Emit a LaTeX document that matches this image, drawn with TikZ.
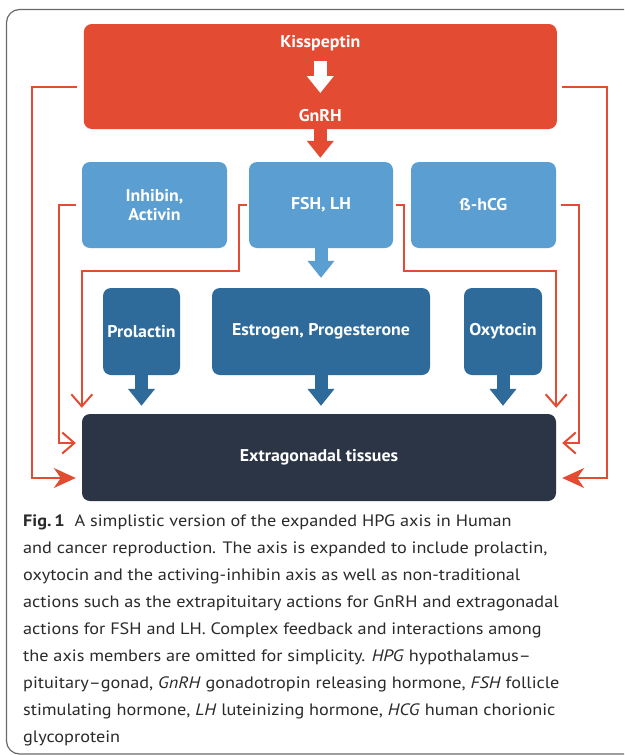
\documentclass[tikz,border=0pt]{standalone}
\usepackage{fontspec}
\setmainfont{PT Sans}
\newfontfamily\capfont[FakeStretch=1.105,Ligatures=TeX]{PT Sans}
\newfontfamily\lblfont[FakeStretch=1.05,Ligatures=TeX]{PT Sans}
\usetikzlibrary{arrows.meta,calc}
\definecolor{cred}{HTML}{E34B33}
\definecolor{clight}{HTML}{5A9ED2}
\definecolor{cdark}{HTML}{2E6B9A}
\definecolor{cnavy}{HTML}{2C3546}
\definecolor{cframe}{HTML}{6A6A6A}
\definecolor{ctext}{HTML}{2A2A2A}
\tikzset{
  box/.style={rectangle, rounded corners=8pt, inner sep=0pt, draw=none, text=white,
    font=\lblfont\fontsize{17}{19}\selectfont\bfseries, align=center},
  lbl/.style={inner sep=0pt, text=white, font=\lblfont\fontsize{17}{19}\selectfont\bfseries},
  redline/.style={draw=cred, line width=2pt},
  fbarb/.style={-{Stealth[length=22pt,width=20pt,inset=7pt]}},
  obarb/.style={-{Straight Barb[length=12pt,width=21pt,line width=2pt]}},
  blk/.style={line width=13pt, -{Triangle[length=17pt,width=26pt]}},
}
\begin{document}
\begin{tikzpicture}[x=1pt,y=-1pt]
\clip (0,0) rectangle (624,755);
\fill[white] (0,0) rectangle (624,755);
% frame
\draw[cframe, line width=1.2pt, rounded corners=13pt] (6.5,9.5) rectangle (660,754);
% boxes
\node[box, fill=cred, minimum width=473pt, minimum height=105pt] (red) at (320.3,76.5) {};
\node[lbl] (kiss) at (320.3,43) {Kisspeptin};
\node[lbl] (gnrh) at (320.3,116) {GnRH};
\node[box, fill=clight, minimum width=145pt, minimum height=86pt] (inh) at (154.5,205) {Inhibin,\\Activin};
\node[box, fill=clight, minimum width=144pt, minimum height=86pt] (fsh) at (321,205) {FSH, LH};
\node[box, fill=clight, minimum width=145pt, minimum height=86pt] (hcg) at (483.5,205) {ß-hCG};
\node[box, fill=cdark, minimum width=77pt, minimum height=87pt] (prl) at (141.5,331.5) {Prolactin};
\node[box, fill=cdark, minimum width=218pt, minimum height=87pt] (est) at (321,331.5) {Estrogen, Progesterone};
\node[box, fill=cdark, minimum width=78pt, minimum height=87pt] (oxy) at (503,331.5) {Oxytocin};
\node[box, fill=cnavy, minimum width=474pt, minimum height=87pt] (ext) at (319,457.5) {Extragonadal tissues};
% block arrows
\draw[blk, white] ($(kiss.center)+(0,18)$) -- ($(gnrh.center)+(0,-23)$);
\draw[blk, cred, shorten >=4pt] (red.south) -- (red.south |- fsh.north);
\draw[blk, clight, shorten >=10pt] (fsh.south) -- (fsh.south |- est.north);
\draw[blk, cdark, shorten >=8pt] (prl.south) -- (prl.south |- ext.north);
\draw[blk, cdark, shorten >=8pt] (est.south) -- (est.south |- ext.north);
\draw[blk, cdark, shorten >=8pt] (oxy.south) -- (oxy.south |- ext.north);
% red feedback lines
\draw[redline, fbarb, shorten <=7pt, shorten >=6pt] ($(red.west)+(0,10.5)$) -| (32,478) -- (ext.west |- 0,478);
\draw[redline, fbarb, shorten <=5pt, shorten >=6pt] ($(red.east)+(0,10.5)$) -| (607,478) -- (ext.east |- 0,478);
\draw[redline, obarb, shorten <=6pt, shorten >=6pt] (inh.west) -| (59,443) -- (ext.west |- 0,443);
\draw[redline, obarb, shorten <=5pt, shorten >=6pt] (hcg.east) -| (579,443) -- (ext.east |- 0,443);
\draw[redline, obarb, shorten <=2pt, shorten >=6pt] (fsh.west) -| (239,271) -| (ext.north west);
\draw[redline, obarb, shorten <=3pt, shorten >=6pt] (fsh.east) -| (404,271) -| (ext.north east);
% caption
\node[anchor=north west, inner sep=0pt, text=ctext, align=left,
  font=\capfont\fontsize{16.5}{27}\selectfont] (cap) at (23,515) {%
\textbf{Fig.\,1}\hspace{0.6em}A simplistic version of the expanded HPG axis in Human\\
and cancer reproduction. The axis is expanded to include prolactin,\\
oxytocin and the activing-inhibin axis as well as non-traditional\\
actions such as the extrapituitary actions for GnRH and extragonadal\\
actions for FSH and LH. Complex feedback and interactions among\\
the axis members are omitted for simplicity. \textit{HPG} hypothalamus–\\
pituitary–gonad, \textit{GnRH} gonadotropin releasing hormone, \textit{FSH} follicle\\
stimulating hormone, \textit{LH} luteinizing hormone, \textit{HCG} human chorionic\\
glycoprotein};
\end{tikzpicture}
\end{document}
